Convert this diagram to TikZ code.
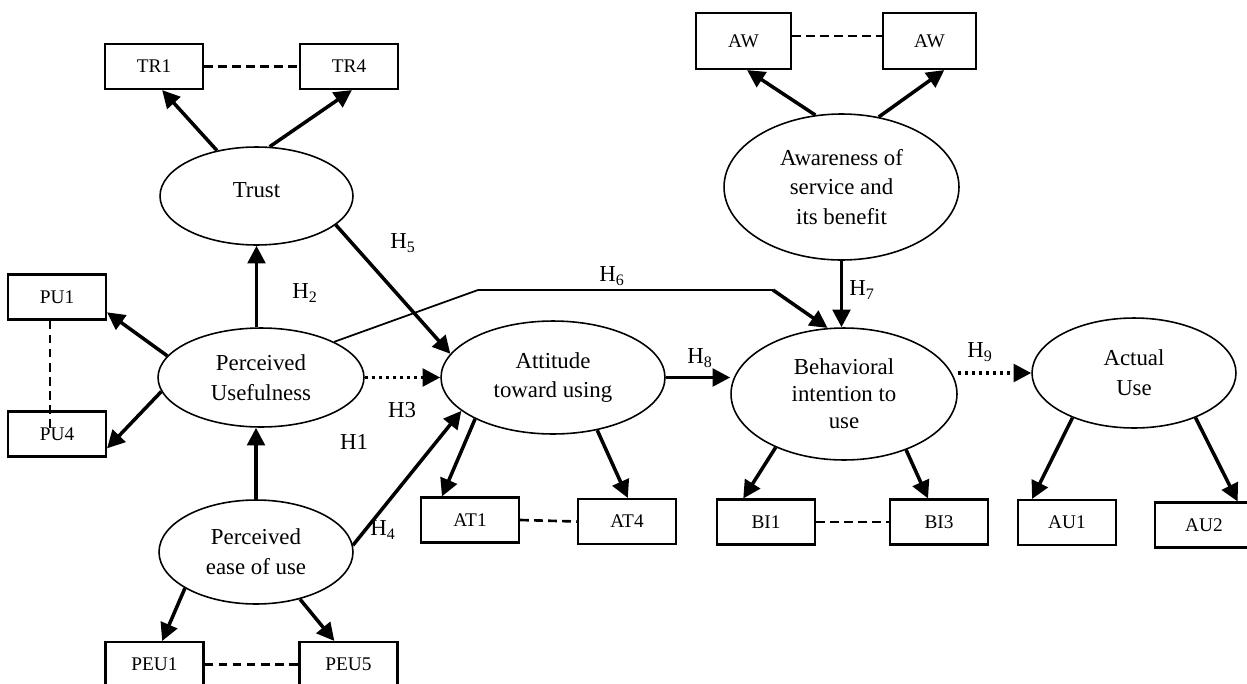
\documentclass[tikz,border=0pt]{standalone}
\usepackage{fontspec}
\setmainfont{Liberation Serif}
\usetikzlibrary{shapes.geometric,arrows.meta,calc}

\begin{document}
\begin{tikzpicture}[x=0.02cm, y=-0.02cm,
  latent/.style={draw, ellipse, line width=0.9pt, align=center, inner sep=0pt,
                 font=\fontsize{13}{17}\selectfont},
  item/.style={draw, line width=1.2pt, minimum width=1.96cm, minimum height=0.9cm,
               inner sep=0pt, font=\fontsize{11}{13}\selectfont},
  hyp/.style={font=\fontsize{13}{15}\selectfont, inner sep=0pt},
  link/.style={line width=1.5pt, dash pattern=on 5pt off 3pt},
  >={Triangle[length=10pt,width=10pt]},
  arr/.style={->, line width=2pt},
  weak/.style={arr, dotted}]
  \useasboundingbox (0,0) rectangle (1247,683);
  % constructs
  \node[latent, minimum width=3.86cm, minimum height=1.96cm] (trust) at (256.5,196) {\raisebox{7pt}{Trust}};
  \node[latent, minimum width=4.12cm, minimum height=1.98cm] (pu)    at (261,377.5) {Perceived\\Usefulness};
  \node[latent, minimum width=3.88cm, minimum height=2.08cm] (peu)   at (256,552)   {Perceived\\ease of use};
  \node[latent, minimum width=4.48cm, minimum height=2.26cm] (att)   at (553,377.5) {Attitude\\toward using};
  \node[latent, minimum width=4.52cm, minimum height=2.64cm,
        font=\fontsize{13}{15.3}\selectfont]                 (bi)    at (844,394)   {Behavioral\\intention to\\use};
  \node[latent, minimum width=4.08cm, minimum height=2.20cm] (au)    at (1134,373)  {Actual\\Use};
  \node[latent, minimum width=4.70cm, minimum height=2.92cm] (aware) at (841.5,187) {Awareness of\\service and\\its benefit};
  % indicators
  \node[item] (tr1)  at (154,66.5)    {TR1};
  \node[item] (tr4)  at (349,66.5)    {TR4};
  \node[item] (pu1)  at (57,297)      {PU1};
  \node[item] (pu4)  at (57,434)      {PU4};
  \node[item] (peu1) at (154.5,664.5) {PEU1};
  \node[item] (peu5) at (348.5,664.5) {PEU5};
  \node[item] (at1)  at (470,520)     {AT1};
  \node[item] (at4)  at (627,521.5)   {AT4};
  \node[item] (bi1)  at (766,522)     {BI1};
  \node[item] (bi3)  at (939,522)     {BI3};
  \node[item] (au1)  at (1067,522.5)  {AU1};
  \node[item] (au2)  at (1204,525)    {AU2};
  \node[item, minimum width=1.90cm, minimum height=1.12cm] (aw1) at (743.5,41) {AW};
  \node[item, minimum width=1.86cm, minimum height=1.12cm] (aw2) at (929.5,41) {AW};
  % hypotheses
  \node[hyp] (h1) at (354,442) {H1};
  \node[hyp] (h2) at (305,293) {H\textsubscript{2}};
  \node[hyp] (h3) at (402,410) {H3};
  \node[hyp] (h4) at (383,530) {H\textsubscript{4}};
  \node[hyp] (h5) at (403,243) {H\textsubscript{5}};
  \node[hyp] (h6) at (612,276) {H\textsubscript{6}};
  \node[hyp] (h7) at (862,290) {H\textsubscript{7}};
  \node[hyp] (h8) at (700,358) {H\textsubscript{8}};
  \node[hyp] (h9) at (980,352) {H\textsubscript{9}};
  \coordinate (h6a) at (478,290);
  \coordinate (h6b) at (773,290);
  % structural paths
  \draw[arr] (trust.south |- pu.north) -- (trust.south);
  \draw[arr] (peu.north) -- (peu.north |- pu.south);
  \draw[arr] (trust.-20) -- (att.167);
  \draw[weak] (pu.east) -- (att.west);
  \draw[arr] (peu.4) -- (att.200);
  \draw[line width=1pt] (pu.26) -- (h6a) -- (h6b);
  \draw[arr] (h6b) -- (bi.104);
  \draw[arr] (aware.south) -- (aware.south |- bi.north);
  \draw[arr] (att.east) -- (att.east -| bi.west);
  \draw[weak] (au.west -| bi.east) -- (au.west);
  % measurement paths
  \draw[arr] (trust.131) -- (tr1.-71);
  \draw[arr] (trust.75) -- (tr4.-83);
  \draw[arr] (pu.167) -- (pu1.-17);
  \draw[arr] (pu.188) -- (pu4.-16);
  \draw[arr] (peu.207) -- (peu1.72);
  \draw[arr] (peu.-47) -- (peu5.121);
  \draw[arr] (att.208) -- (at1.140);
  \draw[arr] (att.-50) -- (at4.88);
  \draw[arr] (bi.218) -- (bi1.134);
  \draw[arr] (bi.-42) -- (bi3.115);
  \draw[arr] (au.216) -- (au1.146);
  \draw[arr] (au.-36) -- (au2.35);
  \draw[arr] (aware.110) -- (aw1.-83);
  \draw[arr] (aware.62) -- (aw2.-63);
  % item ranges
  \draw[link] (tr1.east) -- (tr4.west);
  \draw[link] ($(pu1.south)+(-7,0)$) -- ($(pu4.north)+(-7,18)$);
  \draw[link] (peu1.east) -- (peu5.west);
  \draw[link] (at1.east) -- (at4.west);
  \draw[link] (bi1.east) -- (bi3.west);
  \draw[link] ($(aw1.east)+(0,-5)$) -- ($(aw2.west)+(0,-5)$);
\end{tikzpicture}
\end{document}
